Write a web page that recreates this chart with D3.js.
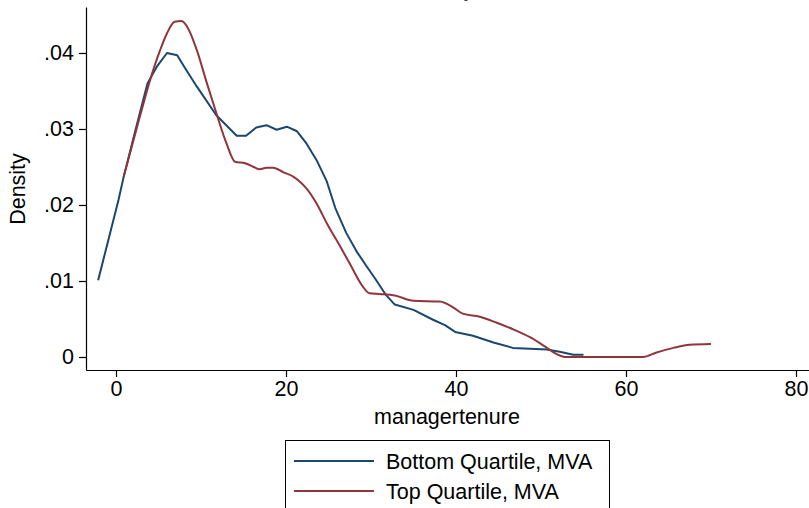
<!DOCTYPE html>
<html>
<head>
<meta charset="utf-8">
<script src="https://cdn.jsdelivr.net/npm/d3@7"></script>
<style>
  html, body { margin: 0; padding: 0; background: #fff; }
  svg { display: block; font-family: "Liberation Sans", Arial, Helvetica, sans-serif; }
</style>
</head>
<body>
<svg id="chart" width="809" height="508"></svg>
<script>
// Kernel density of manager tenure, bottom vs top MVA quartile
const bottomQuartile = [
  [-2.1, 0.0101], [0.3, 0.0207], [0.9, 0.0237], [2.3, 0.0299], [3.7, 0.0360],
  [4.8, 0.0382], [6.0, 0.0400], [7.2, 0.0397], [8.3, 0.0377], [9.5, 0.0356],
  [11.8, 0.0318], [14.2, 0.0291], [15.3, 0.0291], [16.5, 0.0302], [17.7, 0.0305],
  [18.9, 0.0299], [20.1, 0.0303], [21.3, 0.0297], [22.4, 0.0281], [23.6, 0.0259],
  [24.8, 0.0231], [25.8, 0.0196], [27.1, 0.0163], [28.3, 0.0139], [29.5, 0.0119],
  [30.5, 0.0103], [31.8, 0.0081], [32.8, 0.0069], [35.0, 0.0062], [37.3, 0.0049],
  [38.7, 0.0042], [39.9, 0.0033], [42.0, 0.0028], [44.4, 0.0019], [46.7, 0.0012],
  [50.7, 0.0010], [52.2, 0.0007], [53.8, 0.0003], [55.0, 0.0003]
];
const topQuartile = [
  [0.9, 0.0237], [2.8, 0.0316], [4.0, 0.0364], [5.2, 0.0404], [6.0, 0.0426],
  [6.9, 0.0441], [7.7, 0.0442], [8.5, 0.0432], [9.5, 0.0404], [10.7, 0.0360],
  [11.8, 0.0321], [13.0, 0.0281], [14.0, 0.0257], [15.2, 0.0255], [16.2, 0.0250],
  [16.9, 0.0247], [17.7, 0.0249], [18.5, 0.0249], [19.7, 0.0243], [20.9, 0.0237],
  [21.6, 0.0231], [22.4, 0.0222], [23.6, 0.0202], [24.8, 0.0176], [26.4, 0.0145],
  [27.5, 0.0123], [28.9, 0.0095], [29.8, 0.0084], [31.0, 0.0083], [32.8, 0.0081],
  [35.0, 0.0074], [38.1, 0.0073], [39.7, 0.0065], [40.8, 0.0057], [42.8, 0.0053],
  [44.8, 0.0045], [46.8, 0.0036], [48.7, 0.0026], [50.7, 0.0012], [51.8, 0.0004],
  [52.8, 0.0000], [62.0, 0.0000], [63.6, 0.0006], [65.6, 0.0012], [67.5, 0.0016],
  [70.0, 0.0017]
];
const xTicks = [0, 20, 40, 60, 80];
const yTicks = [0, 0.01, 0.02, 0.03, 0.04];
const seriesNames = ["Bottom Quartile, MVA", "Top Quartile, MVA"];
const seriesColors = ["#1a476f", "#90353b"];
const titleText = "Kernel density estimate";
const xTitle = "managertenure";
const yTitle = "Density";

const svg = d3.select("#chart");
const FONT = 21.5;

const x = d3.scaleLinear().domain([-3.53, 81.53]).range([86, 809]);
const y = d3.scaleLinear().domain([-0.00171, 0.04605]).range([370, 7]);

// title (sits above the visible frame)
const title = svg.append("text")
  .attr("y", -3)
  .attr("font-size", 21)
  .attr("fill", "#1e2c5d")
  .text(titleText);
{
  const node = title.node();
  const idx = titleText.indexOf("y");
  const pre = node.getSubStringLength(0, idx);
  const w = node.getSubStringLength(idx, 1);
  title.attr("x", 469 - pre - w / 2);
}

// axes
const xAxis = d3.axisBottom(x).tickValues(xTicks).tickSize(7).tickSizeOuter(0).tickPadding(4)
  .tickFormat(d3.format("d"));
const yAxis = d3.axisLeft(y).tickValues(yTicks).tickSize(7).tickSizeOuter(0).tickPadding(5)
  .tickFormat(d => d === 0 ? "0" : d3.format(".2f")(d).replace(/^0/, ""));

const gx = svg.append("g").attr("transform", "translate(0,370)").call(xAxis);
const gy = svg.append("g").attr("transform", "translate(86,0)").call(yAxis);
[gx, gy].forEach(g => {
  g.selectAll("path.domain").attr("stroke", "#000").attr("stroke-width", 1.2);
  g.selectAll(".tick line").attr("stroke", "#000").attr("stroke-width", 1.2);
  g.selectAll(".tick text").attr("font-size", FONT).attr("fill", "#000")
    .attr("font-family", "Liberation Sans, Arial, sans-serif");
});

svg.append("text")
  .attr("x", 447)
  .attr("y", 424)
  .attr("text-anchor", "middle")
  .attr("font-size", FONT)
  .text(xTitle);

svg.append("text")
  .attr("transform", "translate(25,189) rotate(-90)")
  .attr("text-anchor", "middle")
  .attr("font-size", FONT)
  .text(yTitle);

// density curves: bottom quartile as straight segments, top quartile smoothed
const curves = [d3.curveLinear, d3.curveMonotoneX];
[bottomQuartile, topQuartile].forEach((data, i) => {
  const line = d3.line().x(d => x(d[0])).y(d => y(d[1])).curve(curves[i]);
  svg.append("path")
    .datum(data)
    .attr("fill", "none")
    .attr("stroke", seriesColors[i])
    .attr("stroke-width", 2)
    .attr("stroke-linejoin", "round")
    .attr("d", line);
});

// legend
const legend = svg.append("g");
legend.append("rect")
  .attr("x", 285.5).attr("y", 440.5)
  .attr("width", 324).attr("height", 80)
  .attr("fill", "#fff").attr("stroke", "#000").attr("stroke-width", 1);
seriesNames.forEach((name, i) => {
  const cy = 461 + i * 30;
  legend.append("line")
    .attr("x1", 294).attr("x2", 374).attr("y1", cy).attr("y2", cy)
    .attr("stroke", seriesColors[i]).attr("stroke-width", 2);
  legend.append("text")
    .attr("x", 386).attr("y", cy + 7.5)
    .attr("font-size", FONT)
    .text(name);
});
</script>
</body>
</html>
